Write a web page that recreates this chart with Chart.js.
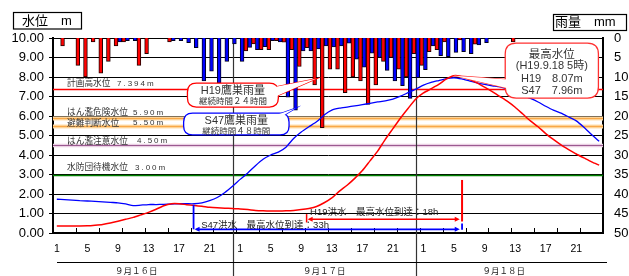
<!DOCTYPE html>
<html><head><meta charset="utf-8">
<script src="https://cdn.jsdelivr.net/npm/chart.js@4/dist/chart.umd.min.js"></script>
<style>html,body{margin:0;padding:0;background:#fff;overflow:hidden}#wrap{position:relative;width:629px;height:276px}</style>
</head><body><div id="wrap"><canvas id="c" width="629" height="276"></canvas></div>
<script>
// ---- data ----
const dayHours = ['1','2','3','4','5','6','7','8','9','10','11','12','13','14','15','16','17','18','19','20','21','22','23','24'];
const dayNames = ['９月１６日','９月１７日','９月１８日'];
const hourLabels = [].concat(dayHours, dayHours, dayHours);

// hourly rainfall (mm) at 鷹巣
const rainH19 = [0,2,0,7,10,1,9,6,2,1,0,7,4,0,0,1,0,0,0,0,0,0,0,0,
                 0,3.3,1.5,3,3,0.7,1.1,3,7.3,2.5,12,23,8,8,14,10,11,17,12,6,5,8,10,4,
                 7,3.5,3,1,0,0.5,0,1.6,0,0,0,0,1,0,0,0,0,0,0,0,0,0,0,0];
const rainS47 = [0,0,0,0,0,0,0,0,1,0.7,0.7,0,0,0,0,0.7,0.7,1.2,2.5,11,8.5,11.6,6,1.5,
                 6,2.4,3,2.2,0.7,1,15.2,18.5,3.3,3.3,2.8,2,2.3,2,1.3,5.4,7.5,3.9,5,8.3,11,12.2,15.5,10.2,
                 8.1,2,4.5,4.8,3.7,3.5,4,1.8,1.2,0,0,0,0,0,0,0,0,0,0,0,0,0,0,0];
// hourly water level (m)
const levelH19 = [0.36,0.36,0.36,0.36,0.37,0.40,0.44,0.51,0.60,0.70,0.80,0.93,1.06,1.22,1.40,1.50,1.50,1.45,1.41,1.37,1.32,1.29,1.27,1.26,
                  1.23,1.20,1.16,1.14,1.13,1.13,1.14,1.16,1.20,1.26,1.36,1.55,1.80,2.15,2.45,2.80,3.20,3.70,4.20,4.80,5.35,5.90,6.40,6.87,
                  7.18,7.40,7.62,7.90,8.07,8.02,7.88,7.70,7.48,7.25,7.00,6.75,6.45,6.10,5.75,5.45,5.10,4.80,4.52,4.28,4.05,3.85,3.65,3.48];
const levelS47 = [1.73,1.71,1.69,1.66,1.64,1.62,1.60,1.57,1.55,1.49,1.40,1.43,1.46,1.46,1.47,1.48,1.50,1.50,1.50,1.55,1.66,1.82,2.08,2.40,
                  2.75,3.08,3.45,3.78,4.00,4.15,4.40,4.85,5.18,5.45,5.70,6.05,6.30,6.40,6.46,6.52,6.58,6.65,6.72,6.78,6.87,7.02,7.20,7.38,
                  7.58,7.72,7.82,7.92,7.96,7.90,7.80,7.70,7.62,7.55,7.49,7.38,7.22,7.05,6.90,6.72,6.50,6.30,6.15,5.95,5.75,5.42,5.05,4.70];

// reference water levels
const refNames = ['計画高水位','はん濫危険水位','避難判断水位','はん濫注意水位','水防団待機水位'];
const refValues = [7.394, 5.9, 5.5, 4.5, 3.0];
const refValueText = ['7.394m','5.90m','5.50m','4.50m','3.00m'];

// axis ticks
const levelTicks = [0,1,2,3,4,5,6,7,8,9,10];
const rainTicks = [0,5,10,15,20,25,30,35,40,45,50];

// ---- styling ----
const FJ = '"Noto Sans CJK JP", sans-serif';
const FL = '"Liberation Sans", "Noto Sans CJK JP", sans-serif';
Chart.defaults.font.family = FL;
Chart.defaults.color = '#000';

function rr(ctx, x, y, w, h, r) {
  ctx.beginPath();
  ctx.moveTo(x + r, y); ctx.lineTo(x + w - r, y); ctx.quadraticCurveTo(x + w, y, x + w, y + r);
  ctx.lineTo(x + w, y + h - r); ctx.quadraticCurveTo(x + w, y + h, x + w - r, y + h);
  ctx.lineTo(x + r, y + h); ctx.quadraticCurveTo(x, y + h, x, y + h - r);
  ctx.lineTo(x, y + r); ctx.quadraticCurveTo(x, y, x + r, y); ctx.closePath();
}
function callout(ctx, b, tip, b1, b2, color, lines) {
  ctx.save();
  ctx.lineWidth = 1.3; ctx.strokeStyle = color; ctx.fillStyle = '#fff';
  ctx.beginPath(); ctx.moveTo(b1.x, b1.y); ctx.lineTo(tip.x, tip.y); ctx.lineTo(b2.x, b2.y); ctx.closePath();
  ctx.fill(); ctx.stroke();
  rr(ctx, b.x, b.y, b.w, b.h, b.r); ctx.fill(); ctx.stroke();
  ctx.beginPath(); ctx.moveTo(b1.x, b1.y); ctx.lineTo(tip.x, tip.y); ctx.lineTo(b2.x, b2.y); ctx.closePath(); ctx.fill();
  ctx.fillStyle = '#333'; ctx.textAlign = 'center'; ctx.textBaseline = 'middle';
  lines.forEach(l => { ctx.font = l.f; ctx.fillText(l.t, b.x + b.w / 2, b.y + l.dy); });
  ctx.restore();
}
function arrowHead(ctx, x, y, dir) {
  ctx.beginPath(); ctx.moveTo(x, y); ctx.lineTo(x - dir * 5, y - 2.5); ctx.lineTo(x - dir * 5, y + 2.5); ctx.closePath(); ctx.fill();
}

const decor = {
  id: 'decor',
  beforeDatasetsDraw(chart) {
    const {ctx, chartArea: a, scales: {x, y}} = chart;
    const X = i => x.getPixelForValue(i);
    ctx.save();
    // reference lines
    refValues.forEach((v, k) => {
      const py = Math.round(y.getPixelForValue(v)) + 0.5;
      ctx.beginPath(); ctx.moveTo(a.left, py); ctx.lineTo(a.right, py);
      if (k === 1 || k === 2) {
        ctx.strokeStyle = '#FFE0B0'; ctx.lineWidth = 4; ctx.stroke();
        ctx.strokeStyle = '#F8A848'; ctx.lineWidth = 1.6; ctx.stroke();
      } else if (k === 3) {
        ctx.strokeStyle = '#EBD0E4'; ctx.lineWidth = 3.5; ctx.stroke();
        ctx.strokeStyle = '#9A5A90'; ctx.lineWidth = 1.2; ctx.stroke();
      } else if (k === 4) {
        ctx.strokeStyle = '#008000'; ctx.lineWidth = 1.5; ctx.stroke();
      } else {
        ctx.strokeStyle = '#FF0000'; ctx.lineWidth = 1.3; ctx.stroke();
      }
    });
    // reference labels
    const valX = [64, 80, 80, 84, 82];
    const dyy = [-1.5, -1.5, 1, -0.5, -3];
    ctx.fillStyle = '#333'; ctx.textAlign = 'left'; ctx.textBaseline = 'bottom';
    refValues.forEach((v, k) => {
      const py = y.getPixelForValue(v) + dyy[k];
      ctx.font = '8.7px ' + FJ; ctx.letterSpacing = '0px';
      ctx.fillText(refNames[k], a.left + 14, py);
      ctx.font = '8px ' + FL; ctx.letterSpacing = '2px';
      ctx.fillText(refValueText[k], a.left + valX[k], py);
    });
    ctx.letterSpacing = '0px';
    // day separators
    ctx.strokeStyle = '#333'; ctx.lineWidth = 1.2;
    [23, 47].forEach(i => {
      const px = Math.round(X(i)) + 0.5;
      ctx.beginPath(); ctx.moveTo(px, a.top); ctx.lineTo(px, chart.height); ctx.stroke();
    });
    // inner tick marks every 3 hours
    ctx.strokeStyle = '#000'; ctx.lineWidth = 1;
    for (let i = 3; i < hourLabels.length; i += 3) {
      const px = Math.round(X(i - 0.5)) + 0.5;
      ctx.beginPath(); ctx.moveTo(px, a.bottom - 5); ctx.lineTo(px, a.bottom); ctx.stroke();
    }
    // date row
    ctx.beginPath(); ctx.moveTo(a.left + 4, 262.5); ctx.lineTo(a.right + 4, 262.5); ctx.stroke();
    ctx.font = '8.5px ' + FJ; ctx.fillStyle = '#222'; ctx.textAlign = 'center'; ctx.textBaseline = 'middle';
    [10.4, 35, 58.5].forEach((c, d) => ctx.fillText(dayNames[d], X(c), 270.5));
    ctx.restore();
  },
  afterDatasetsDraw(chart) {
    const {ctx, chartArea: a, scales: {x, y}} = chart;
    const X = i => x.getPixelForValue(i);
    const Y = v => y.getPixelForValue(v);
    ctx.save();
    // callouts
    const barH = chart.getDatasetMeta(0).data[34];
    let bx = X(17.1), by = Y(7.69);
    callout(ctx, {x: bx, y: by, w: X(29.0) - bx, h: Y(6.46) - by, r: 9},
      {x: barH.x + 1.5, y: barH.y - 6}, {x: X(27.2), y: by + 6}, {x: X(28.5), y: by + 14}, '#FF0000',
      [{t: 'H19鷹巣雨量', f: '11px ' + FL, dy: 8}, {t: '継続時間２４時間', f: '8.5px ' + FJ, dy: 18}]);
    const barS = chart.getDatasetMeta(1).data[31];
    bx = X(16.6); by = Y(6.15);
    callout(ctx, {x: bx, y: by, w: X(30.4) - bx, h: Y(5.03) - by, r: 9},
      {x: barS.x, y: barS.y - 2}, {x: X(26.9), y: by + 7}, {x: X(28.7), y: by + 7}, '#0000FF',
      [{t: 'S47鷹巣雨量', f: '11px ' + FL, dy: 7.5}, {t: '継続時間４８時間', f: '8.5px ' + FJ, dy: 17.5}]);
    const pk = chart.getDatasetMeta(2).data[52];
    bx = X(58.7); by = Y(9.74);
    callout(ctx, {x: bx, y: by, w: X(70.9) - bx, h: Y(6.92) - by, r: 11},
      {x: pk.x, y: pk.y}, {x: bx + 10, y: by + 37}, {x: bx + 10, y: by + 47}, '#FF3030',
      [{t: '最高水位', f: '11.5px ' + FJ, dy: 10.5}, {t: '(H19.9.18 5時)', f: '11px ' + FL, dy: 23},
       {t: 'H19　8.07m', f: '11px ' + FL, dy: 36}, {t: 'S47　7.96m', f: '11px ' + FL, dy: 47.5}]);

    // time-to-peak annotations
    ctx.lineWidth = 1.5;
    // H19
    ctx.strokeStyle = '#FF0000'; ctx.fillStyle = '#FF0000';
    let yA = Y(0.70), x1 = X(32.7), x2 = X(52.75);
    ctx.beginPath(); ctx.moveTo(x1, Y(0.97)); ctx.lineTo(x1, Y(0.54)); ctx.stroke();
    ctx.beginPath(); ctx.moveTo(x1 + 3, yA); ctx.lineTo(x2 - 3, yA); ctx.stroke();
    arrowHead(ctx, x1 + 1, yA, -1); arrowHead(ctx, x2, yA, 1);
    ctx.lineWidth = 2;
    ctx.beginPath(); ctx.moveTo(X(53.05), Y(2.72)); ctx.lineTo(X(53.05), Y(0.59)); ctx.stroke();
    // S47
    ctx.strokeStyle = '#0000FF'; ctx.fillStyle = '#0000FF'; ctx.lineWidth = 1.8;
    yA = Y(0.19); x1 = X(17.9);
    ctx.beginPath(); ctx.moveTo(x1, Y(1.44)); ctx.lineTo(x1, yA); ctx.stroke();
    ctx.beginPath(); ctx.moveTo(x1 + 3, yA); ctx.lineTo(x2 - 3, yA); ctx.stroke();
    arrowHead(ctx, x1 + 1, yA, -1); arrowHead(ctx, x2, yA, 1);
    ctx.beginPath(); ctx.moveTo(X(53.05), Y(0.49)); ctx.lineTo(X(53.05), yA + 0.5); ctx.stroke();
    // labels
    ctx.fillStyle = '#222'; ctx.font = '9.5px ' + FL; ctx.textAlign = 'left'; ctx.textBaseline = 'middle';
    ctx.fillText('H19洪水　最高水位到達：18h', X(33.15), Y(1.08));
    ctx.fillText('S47洪水　最高水位到達：33h', X(18.9), Y(0.41));

    // axis title boxes
    ctx.strokeStyle = '#000'; ctx.lineWidth = 1.2;
    ctx.strokeRect(13.5, 12.5, 68, 16.5);
    ctx.strokeRect(553.5, 14.5, 73, 16);
    ctx.fillStyle = '#000'; ctx.font = '13px ' + FL; ctx.textBaseline = 'middle';
    ctx.fillText('水位　m', 22, 21);
    ctx.fillText('雨量　mm', 555, 22.5);
    ctx.restore();
  }
};

new Chart(document.getElementById('c'), {
  type: 'bar',
  data: {
    labels: hourLabels,
    datasets: [
      {type: 'bar', label: 'H19雨量', data: rainH19, yAxisID: 'yR', backgroundColor: '#FF0000', borderColor: '#200000', borderWidth: 1, order: 2, categoryPercentage: 1.0, barPercentage: 1.0},
      {type: 'bar', label: 'S47雨量', data: rainS47, yAxisID: 'yR', backgroundColor: '#0000FF', borderColor: '#000020', borderWidth: 1, order: 2, categoryPercentage: 1.0, barPercentage: 1.0},
      {type: 'line', label: 'H19水位', data: levelH19, yAxisID: 'y', borderColor: '#FF0000', borderWidth: 1.5, pointRadius: 0, tension: 0.2, order: 0},
      {type: 'line', label: 'S47水位', data: levelS47, yAxisID: 'y', borderColor: '#0000FF', borderWidth: 1.3, pointRadius: 0, tension: 0.2, order: 1}
    ]
  },
  options: {
    responsive: false, animation: false, devicePixelRatio: 1,
    layout: {padding: {top: 38, left: 0, right: 0, bottom: 0}},
    plugins: {legend: {display: false}, tooltip: {enabled: false}, title: {display: false}},
    scales: {
      x: {
        type: 'category', offset: true,
        grid: {display: false, drawTicks: false},
        border: {display: true, color: '#000', width: 2},
        ticks: {autoSkip: false, maxRotation: 0, minRotation: 0, padding: 10, font: {size: 10.5}, color: '#000',
                callback: (v, i) => (i % 4 === 0 ? hourLabels[i] : '')},
        afterFit: s => { s.height = 43; }
      },
      y: {
        position: 'left', min: 0, max: 10,
        afterBuildTicks: s => { s.ticks = levelTicks.map(v => ({value: v})); },
        ticks: {padding: 5, font: {size: 13}, color: '#000', callback: v => Number(v).toFixed(2)},
        grid: {color: '#000', lineWidth: 1, tickLength: 4, drawTicks: true},
        border: {display: true, color: '#000', width: 2},
        afterFit: s => { s.width = 53; }
      },
      yR: {
        position: 'right', min: 0, max: 50, reverse: true,
        afterBuildTicks: s => { s.ticks = rainTicks.map(v => ({value: v})); },
        ticks: {padding: 11, font: {size: 13}, color: '#000'},
        grid: {display: false, drawTicks: false},
        border: {display: true, color: '#000', width: 2},
        afterFit: s => { s.width = 26; }
      }
    }
  },
  plugins: [decor]
});
</script>
</body></html>
